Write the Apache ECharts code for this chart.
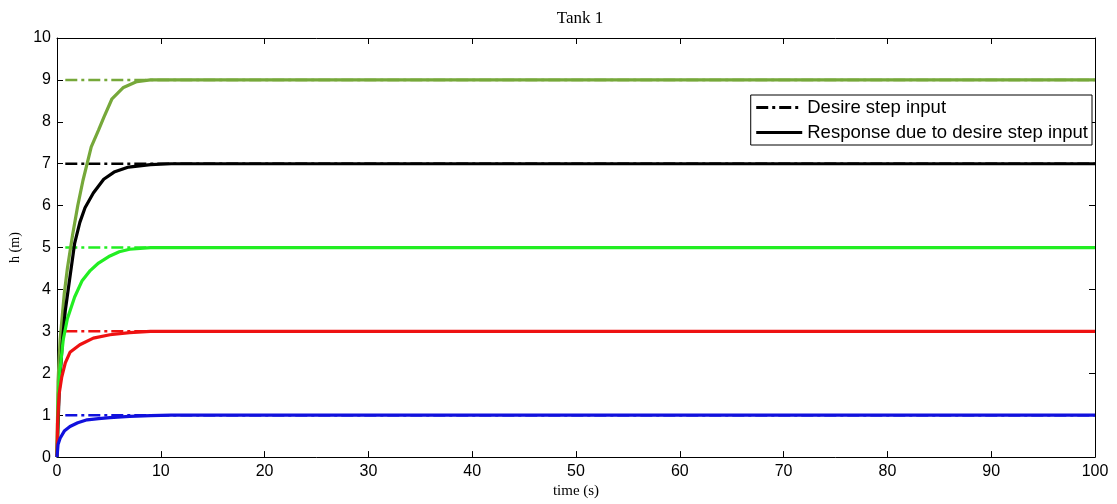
<!DOCTYPE html>
<html><head><meta charset="utf-8">
<script src="https://cdn.jsdelivr.net/npm/echarts@6/dist/echarts.min.js"></script>
<style>html,body{margin:0;padding:0;background:#fff}#c{width:1117px;height:504px}</style>
</head><body><div id="c"></div>
<script>
var xTicks = [0,10,20,30,40,50,60,70,80,90,100];
var yTicks = [0,1,2,3,4,5,6,7,8,9,10];
var stepStart = 0.8, stepEnd = 100;
var setpoints = [9, 7, 5, 3, 1];
var resp9 = [[0,0],[0.1,1.8],[0.3,2.8],[0.7,3.9],[1,4.5],[1.5,5.3],[2,6.0],[2.5,6.6],[3.3,7.4],[4,7.8],[4.5,8.1],[5.3,8.55],[6.4,8.82],[7.7,8.96],[9,9.0],[10,9],[100,9]];
var resp7 = [[0,0],[0.2,1.5],[0.5,2.7],[0.8,3.5],[1.25,4.3],[1.7,5.1],[2.2,5.6],[2.7,5.95],[3.5,6.3],[4.5,6.63],[5.5,6.8],[6.9,6.92],[9,6.98],[11,7],[100,7]];
var resp5 = [[0,0],[0.13,1.5],[0.3,2.1],[0.6,2.8],[1,3.3],[1.7,3.82],[2.4,4.2],[3.2,4.45],[4,4.63],[5.1,4.8],[6,4.9],[7,4.96],[9,5.0],[100,5]];
var resp3 = [[0,0],[0.05,0.8],[0.2,1.5],[0.45,1.9],[0.8,2.25],[1.25,2.5],[2.2,2.68],[3.5,2.84],[5.1,2.92],[7,2.97],[9,3],[100,3]];
var resp1 = [[0,0],[0.1,0.3],[0.3,0.45],[0.7,0.62],[1.25,0.73],[2,0.82],[2.9,0.89],[4,0.92],[5.1,0.94],[7,0.97],[9,0.99],[11,1],[100,1]];
var responses = [resp9, resp7, resp5, resp3, resp1];
var colors = ['#76a83a', '#000000', '#22ee22', '#ee1111', '#1111dd'];
var names = ['Desire step input', 'Response due to desire step input'];

var series = [];
setpoints.forEach(function(v, i){
  series.push({
    type:'line', name: i===1 ? names[0] : ('step'+v), showSymbol:false, symbol:'none', z:2,
    data:[[stepStart, v],[stepEnd, v]],
    lineStyle:{color:colors[i], width:2.5, type:[12,4,3,4]}, itemStyle:{color:colors[i]}, silent:true
  });
});
responses.forEach(function(d, i){
  series.push({
    type:'line', name: i===1 ? names[1] : ('resp'+i), showSymbol:false, symbol:'none', z:3,
    data:d, lineStyle:{color:colors[i], width:3.2}, itemStyle:{color:colors[i]}, silent:true
  });
});

var axisCommon = {
  min:0, max:100, interval:10, type:'value',
  axisLine:{show:true, onZero:false, lineStyle:{color:'#000', width:1}},
  axisTick:{show:true, inside:true, length:6, lineStyle:{color:'#000'}},
  splitLine:{show:false}
};
var chart = echarts.init(document.getElementById('c'));
chart.setOption({
  animation:false,
  backgroundColor:'#fff',
  title:{text:'Tank 1', left:575, top:5, textAlign:'center',
    textStyle:{fontFamily:'Liberation Serif', fontWeight:'normal', fontSize:17, color:'#000'}},
  legend:{
    data:[{name:names[0]},{name:names[1]}],
    right:25, top:95, orient:'vertical', itemGap:6, itemWidth:46, itemHeight:14,
    itemStyle:{opacity:0}, lineStyle:{width:3},
    backgroundColor:'#fff', borderColor:'#000', borderWidth:1, borderRadius:0, padding:[3,4,3,4],
    textStyle:{fontFamily:'Liberation Sans', fontSize:18.5, color:'#000'}, selectedMode:false
  },
  grid:{left:57, right:22, top:38, bottom:45, containLabel:false},
  xAxis:[
    Object.assign({}, axisCommon, {position:'bottom',
      name:'time (s)', nameLocation:'middle', nameGap:26,
      nameTextStyle:{fontFamily:'Liberation Serif', fontSize:15, color:'#000'},
      axisLabel:{fontFamily:'Liberation Sans', fontSize:16, color:'#000', margin:6}}),
    Object.assign({}, axisCommon, {position:'top', axisLabel:{show:false}})
  ],
  yAxis:[
    Object.assign({}, axisCommon, {min:0, max:10, interval:1, position:'left',
      name:'h (m)', nameLocation:'middle', nameGap:32, nameRotate:90,
      nameTextStyle:{fontFamily:'Liberation Serif', fontSize:14, color:'#000'},
      axisLabel:{fontFamily:'Liberation Sans', fontSize:16, color:'#000', margin:6}}),
    Object.assign({}, axisCommon, {min:0, max:10, interval:1, position:'right', axisLabel:{show:false}})
  ],
  series:series
});
</script></body></html>
